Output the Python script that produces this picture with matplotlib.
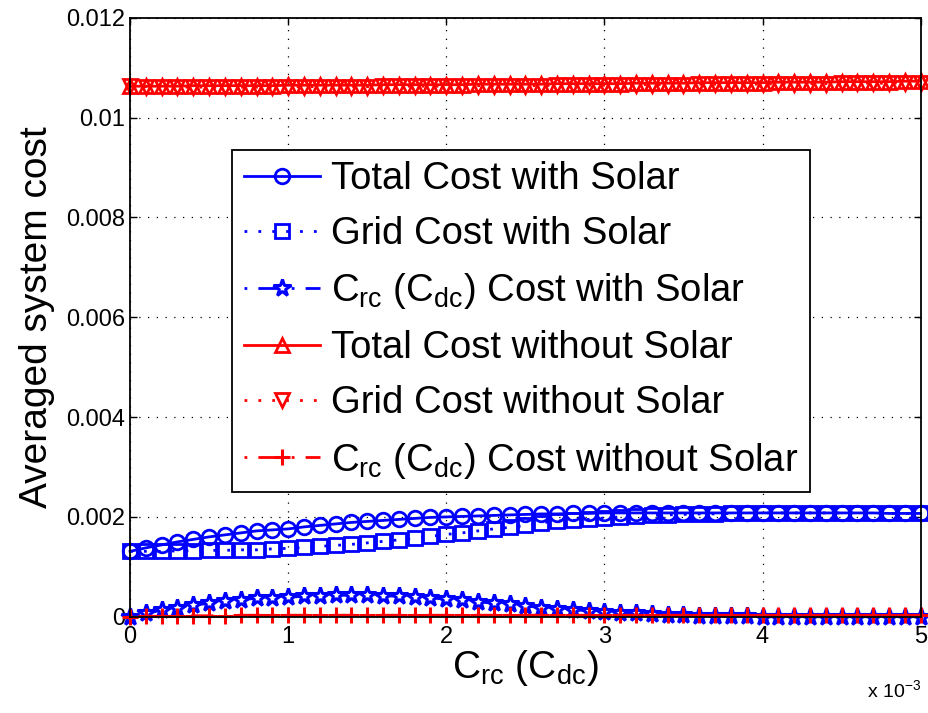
import numpy as np
import matplotlib
matplotlib.use("Agg")
from matplotlib import pyplot as plt
from matplotlib.ticker import FuncFormatter, MultipleLocator

plt.rcParams['font.family'] = ['Liberation Sans', 'DejaVu Sans']
plt.rcParams['mathtext.fontset'] = 'custom'
plt.rcParams['mathtext.rm'] = 'Liberation Sans'
plt.rcParams['mathtext.it'] = 'Liberation Sans'
plt.rcParams['mathtext.default'] = 'regular'

# C_rc (C_dc), 0 .. 5e-3 in steps of 1e-4
crc = np.linspace(0, 5e-3, 51)

# values, in units of 1e-3
total_solar = [1.31, 1.38, 1.44, 1.50, 1.55, 1.60, 1.64, 1.68, 1.72, 1.74,
               1.76, 1.80, 1.83, 1.86, 1.89, 1.91, 1.93, 1.95, 1.97, 1.99,
               2.00, 2.01, 2.02, 2.03, 2.04, 2.05, 2.06, 2.06, 2.07, 2.07,
               2.08, 2.08, 2.08, 2.08, 2.08, 2.08, 2.08, 2.08, 2.08, 2.08,
               2.08, 2.08, 2.08, 2.08, 2.08, 2.08, 2.08, 2.08, 2.07, 2.07,
               2.07]
grid_solar = [1.31, 1.31, 1.31, 1.32, 1.32, 1.33, 1.33, 1.34, 1.34, 1.36,
              1.37, 1.39, 1.41, 1.43, 1.45, 1.48, 1.51, 1.54, 1.58, 1.61,
              1.65, 1.68, 1.72, 1.76, 1.79, 1.83, 1.88, 1.92, 1.93, 1.95,
              1.98, 2.00, 2.01, 2.03, 2.04, 2.05, 2.06, 2.06, 2.07, 2.07,
              2.08, 2.08, 2.08, 2.08, 2.08, 2.08, 2.08, 2.08, 2.07, 2.07,
              2.07]
crc_solar = [0.00, 0.07, 0.13, 0.18, 0.23, 0.27, 0.31, 0.34, 0.37, 0.38,
             0.39, 0.41, 0.42, 0.43, 0.43, 0.43, 0.42, 0.41, 0.39, 0.38,
             0.35, 0.33, 0.30, 0.27, 0.25, 0.22, 0.18, 0.15, 0.14, 0.12,
             0.10, 0.08, 0.07, 0.05, 0.04, 0.03, 0.02, 0.02, 0.01, 0.01,
             0.00, 0.00, 0.00, 0.00, 0.00, 0.00, 0.00, 0.00, 0.00, 0.00,
             0.00]
total_nosolar = [10.63, 10.63, 10.63, 10.63, 10.64, 10.64, 10.64, 10.64, 10.64, 10.64,
                 10.65, 10.65, 10.65, 10.65, 10.65, 10.65, 10.66, 10.66, 10.66, 10.66,
                 10.66, 10.66, 10.67, 10.67, 10.67, 10.67, 10.67, 10.68, 10.68, 10.68,
                 10.68, 10.68, 10.69, 10.69, 10.69, 10.69, 10.70, 10.70, 10.70, 10.70,
                 10.70, 10.71, 10.71, 10.71, 10.71, 10.72, 10.72, 10.72, 10.72, 10.73,
                 10.73]
grid_nosolar = [10.63, 10.62, 10.62, 10.61, 10.61, 10.61, 10.61, 10.61, 10.61, 10.61,
                10.62, 10.62, 10.62, 10.62, 10.62, 10.62, 10.63, 10.63, 10.63, 10.63,
                10.63, 10.63, 10.64, 10.64, 10.64, 10.64, 10.64, 10.65, 10.65, 10.65,
                10.65, 10.65, 10.66, 10.66, 10.66, 10.66, 10.67, 10.67, 10.67, 10.67,
                10.67, 10.68, 10.68, 10.68, 10.68, 10.69, 10.69, 10.69, 10.69, 10.70,
                10.70]
crc_nosolar = [0.00, 0.01, 0.01, 0.02, 0.02, 0.02, 0.02, 0.03, 0.03, 0.03,
               0.03, 0.03, 0.03, 0.03, 0.03, 0.03, 0.03, 0.03, 0.03, 0.03,
               0.03, 0.03, 0.03, 0.03, 0.03, 0.03, 0.03, 0.03, 0.03, 0.03,
               0.03, 0.03, 0.03, 0.03, 0.03, 0.03, 0.03, 0.03, 0.03, 0.03,
               0.03, 0.03, 0.03, 0.03, 0.03, 0.03, 0.03, 0.03, 0.03, 0.03,
               0.03]

labels = ['Total Cost with Solar', 'Grid Cost with Solar',
          r'$C_{rc}$ ($C_{dc}$) Cost with Solar',
          'Total Cost without Solar', 'Grid Cost without Solar',
          r'$C_{rc}$ ($C_{dc}$) Cost without Solar']

fig = plt.figure(figsize=(9.29, 7.13), dpi=100)
ax = fig.add_axes([0.14, 0.135, 0.851, 0.840])

lw = 2.0
dotted = (0, (1, 4))
dashdot = (0, (1, 4, 8, 4))
kw = dict(markersize=10.5, linewidth=lw, markeredgewidth=2.0, markerfacecolor='none',
          clip_on=False)
ax.plot(crc, np.array(total_solar) * 1e-3, color='b', linestyle='-', marker='o',
        label=labels[0], **kw)
ax.plot(crc, np.array(grid_solar) * 1e-3, color='b', linestyle=dotted, marker='s',
        label=labels[1], **kw)
ax.plot(crc, np.array(crc_solar) * 1e-3, color='b', linestyle=dashdot, marker='*',
        label=labels[2], markersize=13, linewidth=lw, markeredgewidth=2.2,
        markerfacecolor='white', clip_on=False)
ax.plot(crc, np.array(total_nosolar) * 1e-3, color='r', linestyle='-', marker='^',
        label=labels[3], **kw)
ax.plot(crc, np.array(grid_nosolar) * 1e-3, color='r', linestyle=dotted, marker='v',
        label=labels[4], **kw)
ax.plot(crc, np.array(crc_nosolar) * 1e-3, color='r', linestyle=dashdot, marker='+',
        label=labels[5], markersize=11, linewidth=lw, markeredgewidth=2.2,
        clip_on=False)

ax.set_xlim(0, 5e-3)
ax.set_ylim(0, 0.012)
ax.xaxis.set_major_locator(MultipleLocator(1e-3))
ax.yaxis.set_major_locator(MultipleLocator(0.002))
ax.xaxis.set_major_formatter(FuncFormatter(lambda v, p: '%g' % round(v * 1e3, 6)))
ax.yaxis.set_major_formatter(FuncFormatter(lambda v, p: '%g' % round(v, 6)))
ax.tick_params(direction='in', top=True, right=True, labelsize=17, length=5, width=1)
ax.tick_params(axis='x', pad=7)
ax.grid(True, color='black', linestyle=(0, (1, 6)), linewidth=0.9)
for s in ax.spines.values():
    s.set_linewidth(1.3)

ax.set_xlabel(r'$C_{rc}$ ($C_{dc}$)', fontsize=28, labelpad=0)
ax.set_ylabel('Averaged system cost', fontsize=28, labelpad=8)
ax.text(1.0, -0.105, r'x 10$^{-3}$', transform=ax.transAxes, fontsize=14,
        ha='right', va='top')

leg = ax.legend(loc='upper left', bbox_to_anchor=(0.129, 0.78), borderaxespad=0,
                fontsize=27.5, numpoints=1, handlelength=2.0, handletextpad=0.3,
                labelspacing=0.5, borderpad=0.3, fancybox=False, framealpha=1,
                edgecolor='black')
leg.get_frame().set_linewidth(1.3)

fig.savefig('out.png', dpi=100)
